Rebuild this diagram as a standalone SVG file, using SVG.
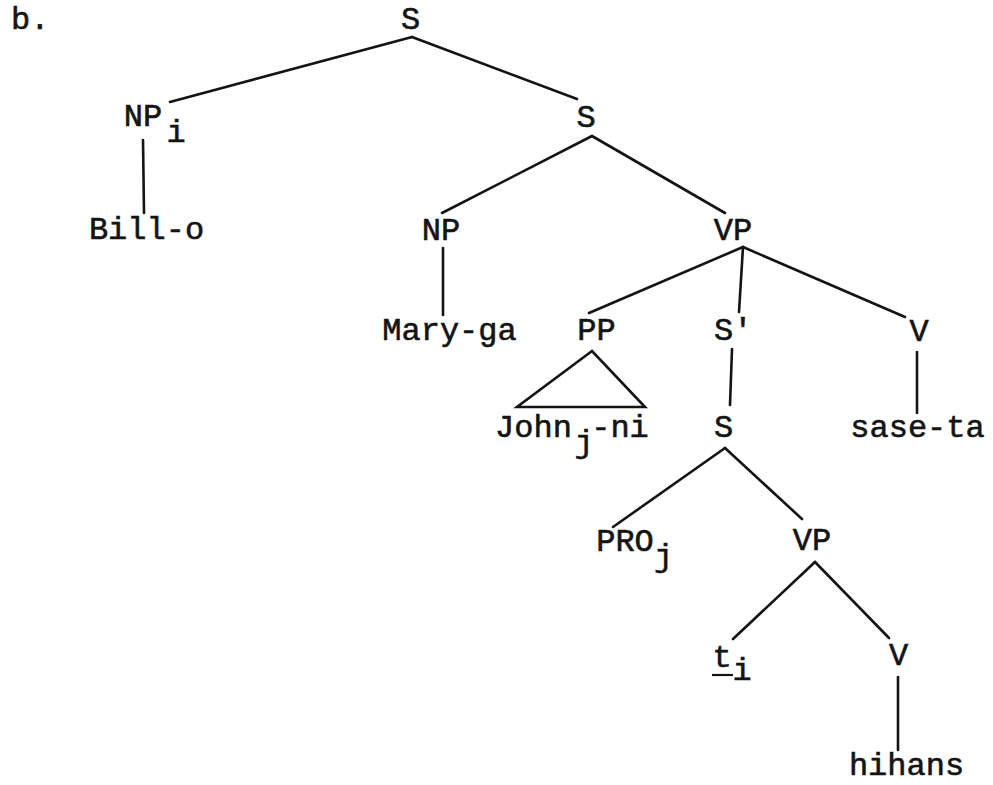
<svg xmlns="http://www.w3.org/2000/svg" width="993" height="785" viewBox="0 0 993 785">
<style>
text{font-family:"Liberation Mono","Courier New",monospace;font-size:32px;fill:#141414;stroke:#141414;stroke-width:0.6;text-anchor:middle}
.st{text-anchor:start}
.e{stroke:#141414;stroke-width:2.6;stroke-linecap:round;fill:none}
</style>
<rect width="993" height="785" fill="#ffffff"/>
<text class="st" x="11" y="29">b.</text>
<g id="connectors" class="e">
<line x1="412" y1="37" x2="170" y2="102"/>
<line x1="412" y1="37" x2="577" y2="99"/>
<line x1="143" y1="140" x2="144" y2="213"/>
<line x1="592" y1="136" x2="442" y2="213"/>
<line x1="592" y1="136" x2="725" y2="213"/>
<line x1="443" y1="248" x2="443" y2="315"/>
<line x1="743" y1="247" x2="589" y2="313"/>
<line x1="743" y1="247" x2="739" y2="312"/>
<line x1="743" y1="247" x2="905" y2="317"/>
<line x1="732" y1="349" x2="730" y2="405"/>
<line x1="917" y1="352" x2="917" y2="413"/>
<polygon points="592,351 517,407 645,407" stroke-linejoin="miter"/>
<line x1="725" y1="448" x2="613" y2="527"/>
<line x1="725" y1="448" x2="802" y2="519"/>
<line x1="815" y1="562" x2="733" y2="639"/>
<line x1="815" y1="562" x2="889" y2="638"/>
<line x1="898" y1="677" x2="898" y2="750"/>
</g>
<g id="n-S-root"><text x="410.5" y="29">S</text></g>
<g id="n-NPi"><text x="143" y="126">NP</text><text x="176" y="142">i</text></g>
<g id="n-Bill-o"><text x="146.5" y="239">Bill-o</text></g>
<g id="n-S2"><text x="586" y="127">S</text></g>
<g id="n-NP"><text x="441" y="240">NP</text></g>
<g id="n-VP"><text x="733" y="240">VP</text></g>
<g id="n-Mary-ga"><text x="449.5" y="340">Mary-ga</text></g>
<g id="n-PP"><text x="596.5" y="340">PP</text></g>
<g id="n-Sbar"><text class="st" x="714" y="340">S'</text></g>
<g id="n-V1"><text x="919" y="341">V</text></g>
<g id="n-John-ni"><text x="533.5" y="437">John</text><text x="584" y="452">j</text><text x="620" y="437">-ni</text></g>
<g id="n-S3"><text x="723.5" y="437">S</text></g>
<g id="n-sase-ta"><text x="917.5" y="437">sase-ta</text></g>
<g id="n-PRO"><text x="625" y="551">PRO</text><text x="663.5" y="566">j</text></g>
<g id="n-VP2"><text x="812" y="550">VP</text></g>
<g id="n-t"><text x="722" y="667">t</text><line x1="712" y1="675" x2="733" y2="675" stroke="#141414" stroke-width="2.2"/><text x="742" y="680">i</text></g>
<g id="n-V2"><text x="898.5" y="665">V</text></g>
<g id="n-hihans"><text x="906.5" y="775">hihans</text></g>
</svg>
